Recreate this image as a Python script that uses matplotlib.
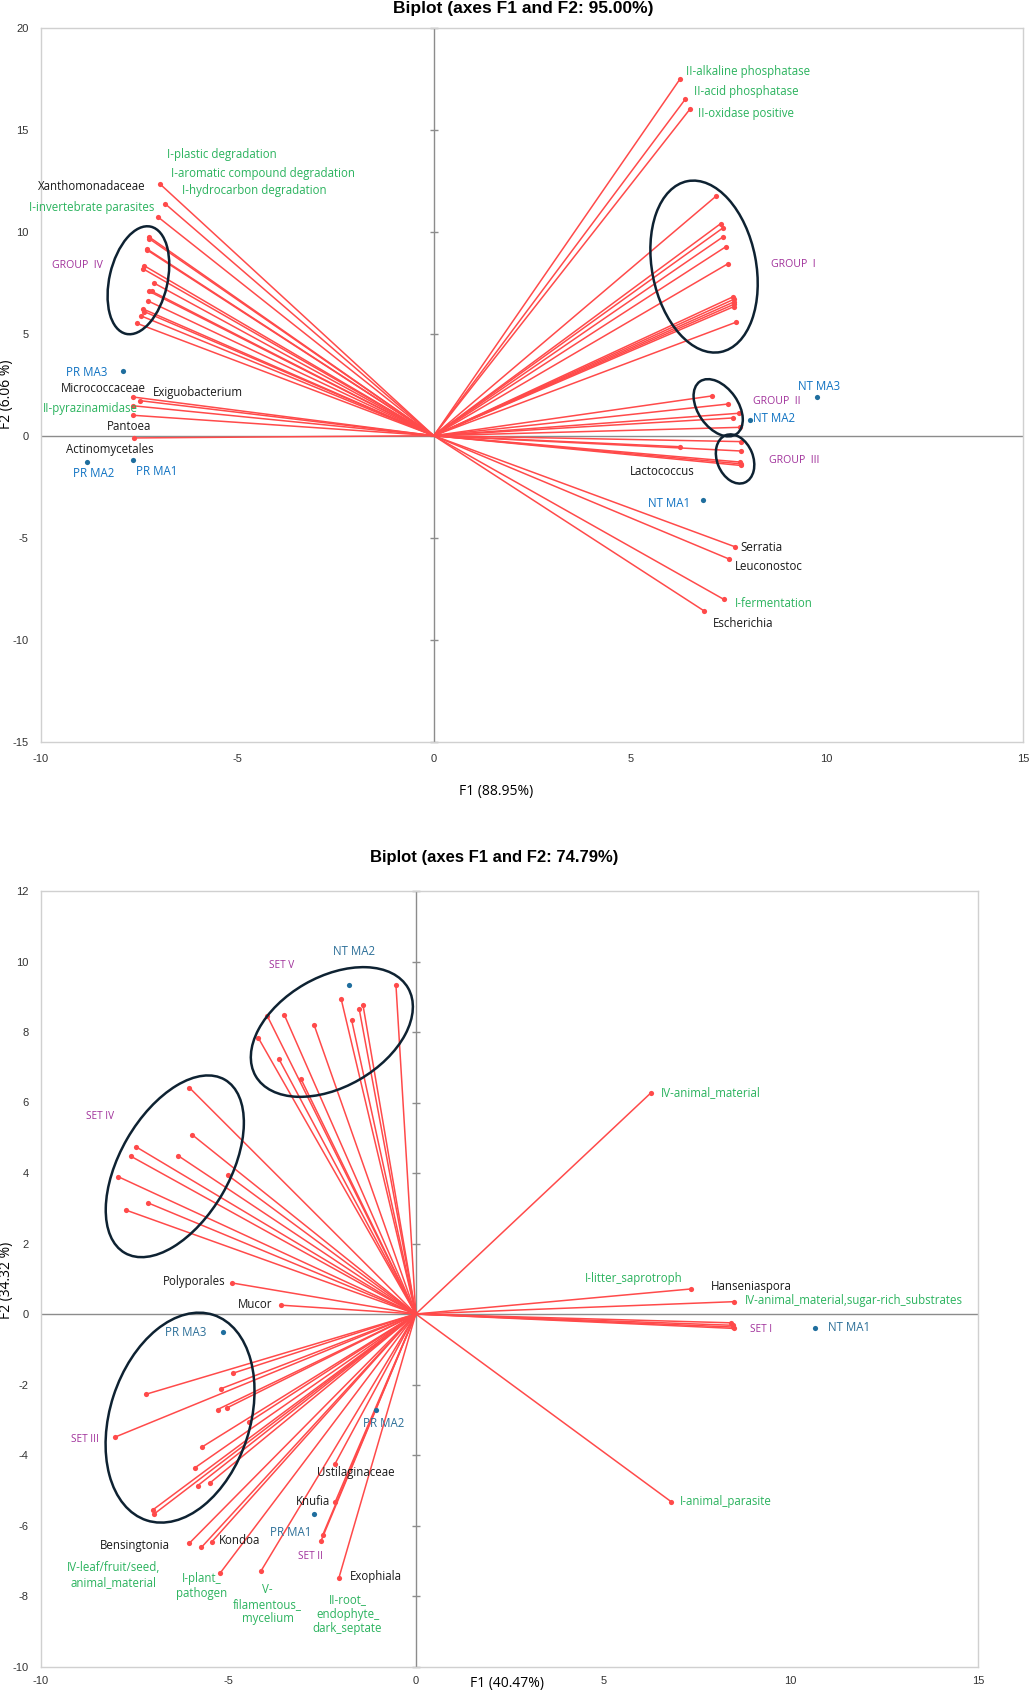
import matplotlib
matplotlib.use('Agg')
import matplotlib.pyplot as plt
from matplotlib.patches import Ellipse
from matplotlib.transforms import ScaledTranslation

plt.rcParams['font.family'] = ['Open Sans', 'DejaVu Sans']
plt.rcParams['axes.unicode_minus'] = False

RED = '#FF4A4A'
DOT = '#1F6E9E'
COLORS = {'g': '#2BB35E', 'k': '#1A1A1A', 'p': '#A0309A', 'b': '#0F72C2', 'b2': '#2C6F98'}
NARROW = ['Liberation Sans Narrow', 'Liberation Sans', 'DejaVu Sans']

# ---------------- top biplot (bacteria) ----------------
top_vx = [-6.96, -6.84, -7.02,
          -7.26, -7.24, -7.30, -7.29, -7.37, -7.41, -7.13, -7.25, -7.18, -7.27, -7.40, -7.37, -7.45, -7.56,
          -7.67, -7.49, -7.67, -7.65, -7.64,
          6.27, 6.40, 6.53,
          7.19, 7.30, 7.35, 7.35, 7.44, 7.48, 7.62, 7.63, 7.63, 7.65, 7.63, 7.69,
          7.08, 7.48, 7.77, 7.62, 7.79,
          7.82, 6.26, 7.82, 7.79, 7.82, 7.82,
          7.66, 7.51, 7.38, 6.89]
top_vy = [12.32, 11.37, 10.72,
          9.76, 9.65, 9.15, 9.09, 8.33, 8.19, 7.49, 7.08, 7.08, 6.60, 6.21, 6.08, 5.87, 5.51,
          1.90, 1.72, 1.47, 1.00, -0.11,
          17.49, 16.49, 16.03,
          11.75, 10.39, 10.17, 9.73, 9.27, 8.42, 6.81, 6.68, 6.55, 6.45, 6.32, 5.56,
          1.95, 1.55, 1.10, 0.87, 0.41,
          -0.29, -0.54, -0.75, -1.29, -1.38, -1.46,
          -5.44, -6.04, -8.02, -8.60]
top_obs_x = [-7.67, -8.82, -7.91, 6.86, 8.05, 9.76]
top_obs_y = [-1.18, -1.28, 3.16, -3.14, 0.75, 1.88]

top_labels = [
    ('I-plastic degradation', -6.78, 13.79, 'g', 'left'),
    ('I-aromatic compound degradation', -6.70, 12.84, 'g', 'left'),
    ('I-hydrocarbon degradation', -6.42, 12.00, 'g', 'left'),
    ('Xanthomonadaceae', -7.33, 12.21, 'k', 'right'),
    ('I-invertebrate parasites', -7.11, 11.20, 'g', 'right'),
    ('GROUP  IV', -9.06, 8.35, 'p', 'center'),
    ('PR MA3', -8.84, 3.11, 'b', 'center'),
    ('Micrococcaceae', -7.33, 2.32, 'k', 'right'),
    ('Exiguobacterium', -7.14, 2.10, 'k', 'left'),
    ('II-pyrazinamidase', -9.94, 1.31, 'g', 'left'),
    ('Pantoea', -7.77, 0.47, 'k', 'center'),
    ('Actinomycetales', -8.26, -0.70, 'k', 'center'),
    ('PR MA2', -8.65, -1.86, 'b', 'center'),
    ('PR MA1', -7.06, -1.75, 'b', 'center'),
    ('II-alkaline phosphatase', 6.42, 17.87, 'g', 'left'),
    ('II-acid phosphatase', 6.62, 16.86, 'g', 'left'),
    ('II-oxidase positive', 6.73, 15.80, 'g', 'left'),
    ('GROUP  I', 9.14, 8.40, 'p', 'center'),
    ('NT MA3', 9.80, 2.42, 'b', 'center'),
    ('GROUP  II', 8.73, 1.68, 'p', 'center'),
    ('NT MA2', 8.12, 0.83, 'b', 'left'),
    ('GROUP  III', 9.17, -1.23, 'p', 'center'),
    ('Lactococcus', 5.82, -1.75, 'k', 'center'),
    ('NT MA1', 5.98, -3.34, 'b', 'center'),
    ('Serratia', 7.80, -5.46, 'k', 'left'),
    ('Leuconostoc', 7.66, -6.41, 'k', 'left'),
    ('I-fermentation', 7.66, -8.21, 'g', 'left'),
    ('Escherichia', 7.11, -9.22, 'k', 'left'),
]
# ellipse: centre x, centre y, width px, height px, angle
top_ellipses = [(-7.52, 7.62, 110, 58, 77), (6.88, 8.29, 174, 104, 101),
                (7.24, 1.37, 64, 40, 125), (7.67, -1.14, 51, 36, 112)]

# ---------------- bottom biplot (fungi) ----------------
bot_vx = [-0.53, -1.99, -1.41, -1.51, -1.71, -2.71, -3.96, -3.51, -4.20, -3.65, -3.06,
          -6.04, -5.96, -7.46, -7.61, -6.34, -7.95, -5.02, -7.14, -7.74,
          -4.90, -3.59,
          6.27, 7.34, 8.50, 8.40, 8.45, 8.47, 8.50, 6.82,
          -4.88, -7.21, -5.20, -5.29, -5.05, -4.46, -8.02, -5.70, -5.89, -5.82, -5.50, -7.02, -6.99,
          -6.04, -5.72, -5.44, -5.22, -4.13, -2.16, -2.15, -2.48, -2.53, -2.05]
bot_vy = [9.34, 8.93, 8.77, 8.65, 8.33, 8.19, 8.45, 8.49, 7.83, 7.23, 6.66,
          6.42, 5.08, 4.74, 4.48, 4.49, 3.90, 3.94, 3.15, 2.95,
          0.88, 0.25,
          6.27, 0.71, 0.35, -0.25, -0.32, -0.37, -0.41, -5.33,
          -1.68, -2.28, -2.12, -2.71, -2.67, -3.07, -3.49, -3.77, -4.36, -4.87, -4.80, -5.56, -5.68,
          -6.50, -6.62, -6.46, -7.35, -7.29, -4.26, -5.33, -6.26, -6.44, -7.48]
bot_obs_x = [-1.77, 10.64, -5.14, -1.06, -2.71]
bot_obs_y = [9.33, -0.41, -0.52, -2.73, -5.67]

bot_labels = [
    ('SET V', -3.58, 9.88, 'p', 'center'),
    ('NT MA2', -1.65, 10.28, 'b2', 'center'),
    ('SET IV', -8.42, 5.59, 'p', 'center'),
    ('IV-animal_material', 6.53, 6.27, 'g', 'left'),
    ('I-litter_saprotroph', 5.81, 1.00, 'g', 'center'),
    ('Hanseniaspora', 7.88, 0.79, 'k', 'left'),
    ('IV-animal_material,sugar-rich_substrates', 8.78, 0.39, 'g', 'left'),
    ('SET I', 9.21, -0.43, 'p', 'center'),
    ('NT MA1', 10.99, -0.37, 'b2', 'left'),
    ('I-animal_parasite', 7.05, -5.33, 'g', 'left'),
    ('Polyporales', -5.08, 0.91, 'k', 'right'),
    ('Mucor', -3.84, 0.27, 'k', 'right'),
    ('PR MA3', -6.14, -0.53, 'b2', 'center'),
    ('SET III', -8.82, -3.56, 'p', 'center'),
    ('PR MA2', -0.87, -3.10, 'b2', 'center'),
    ('Ustilaginaceae', -1.59, -4.51, 'k', 'center'),
    ('Knufia', -2.74, -5.33, 'k', 'center'),
    ('PR MA1', -3.35, -6.19, 'b2', 'center'),
    ('SET II', -2.80, -6.89, 'p', 'center'),
    ('Bensingtonia', -7.49, -6.56, 'k', 'center'),
    ('Kondoa', -4.70, -6.43, 'k', 'center'),
    ('IV-leaf/fruit/seed,\nanimal_material', -8.07, -7.41, 'g', 'center'),
    ('I-plant_\npathogen', -5.71, -7.72, 'g', 'center'),
    ('V-\nfilamentous_\nmycelium', -3.95, -8.24, 'g', 'center'),
    ('II-root_\nendophyte_\ndark_septate', -1.82, -8.52, 'g', 'center'),
    ('Exophiala', -1.76, -7.44, 'k', 'left'),
]
bot_ellipses = [(-2.24, 8.0, 176, 110, 30), (-6.43, 4.19, 200, 110, 60),
                (-6.29, -2.94, 216, 140, 72)]

W, H = 1031, 1692
fig = plt.figure(figsize=(W / 100, H / 100), dpi=100)


def panel(rect, xlim, ylim, xticks, yticks, vx, vy, ox, oy, labels, ellipses, lab_fs, purple_fs):
    ax = fig.add_axes(rect)
    ax.set_xlim(*xlim)
    ax.set_ylim(*ylim)
    ax.set_xticks(xticks)
    ax.set_yticks(yticks)
    ax.tick_params(length=0, labelsize=8, colors='#333333')
    for lab in ax.get_xticklabels() + ax.get_yticklabels():
        lab.set_family(NARROW)
    for s in ax.spines.values():
        s.set_color('#D0D0D0')
        s.set_linewidth(1.0)
    ax.axhline(0, color='#8C8C8C', lw=1.0, zorder=1)
    ax.axvline(0, color='#8C8C8C', lw=1.0, zorder=1)
    # small tick marks on the zero axis
    ax.plot([0] * len(yticks), yticks, ls='none', marker='_', ms=6, mew=1, color='#8C8C8C',
            clip_on=False, zorder=1)
    for x, y in zip(vx, vy):
        ax.plot([0, x], [0, y], color=RED, lw=1.1, zorder=2)
    ax.scatter(vx, vy, s=14, color=RED, zorder=3, linewidths=0)
    ax.scatter(ox, oy, s=14, color=DOT, zorder=3, linewidths=0)
    for cx, cy, w, h, a in ellipses:
        tr = fig.dpi_scale_trans + ScaledTranslation(cx, cy, ax.transData)
        ax.add_patch(Ellipse((0, 0), w / 100, h / 100, angle=a, transform=tr,
                             fill=False, ec='#0E2232', lw=1.8, zorder=4))
    for txt, x, y, c, ha in labels:
        fs = purple_fs if c == 'p' else lab_fs
        ax.text(x, y, txt, color=COLORS[c], ha=ha, va='center', fontsize=fs,
                linespacing=1.15, zorder=5)
    return ax


ax1 = panel([41 / W, 1 - 741.7 / H, 982 / W, 714 / H], (-10, 15), (-15, 20),
            range(-10, 16, 5), range(-15, 21, 5), top_vx, top_vy, top_obs_x, top_obs_y,
            top_labels, top_ellipses, 8.3, 7.6)
ax1.tick_params(axis='x', pad=9)
ax1.tick_params(axis='y', pad=9)

ax2 = panel([41 / W, 1 - 1666.5 / H, 937 / W, 775.5 / H], (-10, 15), (-10, 12),
            range(-10, 16, 5), range(-10, 13, 2), bot_vx, bot_vy, bot_obs_x, bot_obs_y,
            bot_labels, bot_ellipses, 8.3, 7.2)
ax2.tick_params(axis='x', pad=7)
ax2.tick_params(axis='y', pad=9)

fig.text(523 / W, 1 - 8 / H, 'Biplot (axes F1 and F2: 95.00%)', ha='center', va='center',
         fontsize=12.5, fontweight='bold', family=NARROW)
fig.text(496 / W, 1 - 791 / H, 'F1 (88.95%)', ha='center', va='center', fontsize=10)
fig.text(7 / W, 1 - 394 / H, 'F2 (6.06 %)', ha='center', va='center', fontsize=10, rotation=90)

fig.text(494 / W, 1 - 857 / H, 'Biplot (axes F1 and F2: 74.79%)', ha='center', va='center',
         fontsize=12, fontweight='bold', family=['Liberation Sans', 'DejaVu Sans'])
fig.text(507 / W, 1 - 1683 / H, 'F1 (40.47%)', ha='center', va='center', fontsize=10)
fig.text(7 / W, 1 - 1280 / H, 'F2 (34.32 %)', ha='center', va='center', fontsize=10, rotation=90)

fig.savefig('out.png', dpi=100)
